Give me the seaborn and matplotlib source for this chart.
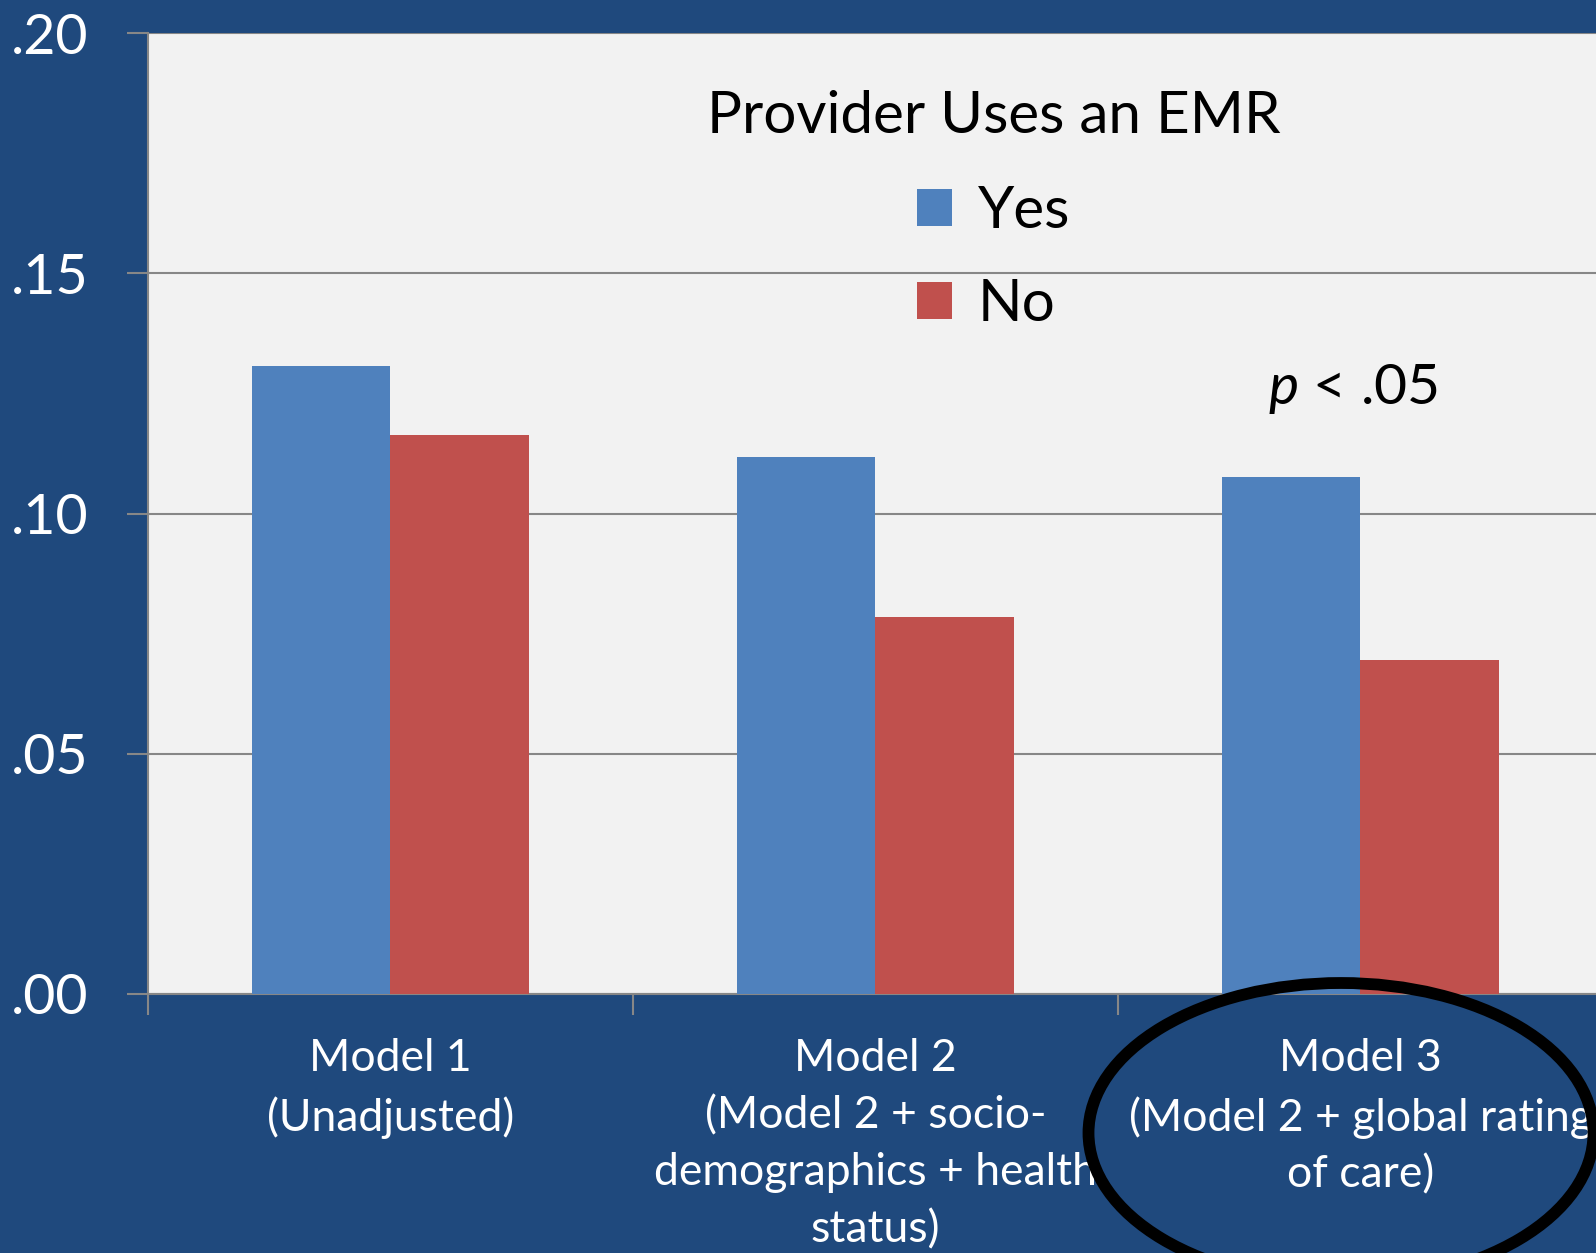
import numpy as np
import pandas as pd
import matplotlib
matplotlib.use("Agg")
import matplotlib.pyplot as plt
from matplotlib.patches import Ellipse
import seaborn as sns

# ── data ─────────────────────────────────────────────────────────────────────
models = [
    "Model 1\n(Unadjusted)",
    "Model 2\n(Model 2 + socio-\ndemographics + health\nstatus)",
    "Model 3\n(Model 2 + global rating\nof care)",
]
emr_groups = ["Yes", "No"]
yes_values = [0.1307, 0.1117, 0.1076]
no_values = [0.1163, 0.0784, 0.0695]
y_ticks = [0.00, 0.05, 0.10, 0.15, 0.20]
y_tick_labels = [".00", ".05", ".10", ".15", ".20"]

df = pd.DataFrame({
    "model": models * 2,
    "emr": ["Yes"] * 3 + ["No"] * 3,
    "value": yes_values + no_values,
})

BG = "#1F497D"
PANEL = "#F2F2F2"
GRID = "#878787"
palette = {"Yes": "#4F81BD", "No": "#C0504D"}

sns.set_theme(style="white")
plt.rcParams["font.family"] = ["Lato", "DejaVu Sans"]
plt.rcParams["mathtext.fontset"] = "custom"
plt.rcParams["mathtext.it"] = "Lato:italic"
plt.rcParams["mathtext.rm"] = "Lato"

fig = plt.figure(figsize=(15.96, 12.53), dpi=100, facecolor=BG)
ax = fig.add_axes([148 / 1596, 1 - 994 / 1253, (1603 - 148) / 1596, (994 - 33) / 1253])
ax.set_facecolor(PANEL)

sns.barplot(data=df, x="model", y="value", hue="emr", hue_order=emr_groups,
            palette=palette, saturation=1, width=0.57, gap=0, linewidth=0,
            ax=ax, zorder=3)

ax.set_xlim(-0.5, 2.5)
ax.set_ylim(0, 0.2)
ax.set_yticks(y_ticks)
ax.set_yticklabels(y_tick_labels)
ax.yaxis.grid(True, color=GRID, linewidth=1.5, zorder=0)
ax.set_axisbelow(True)
ax.set_xlabel("")
ax.set_ylabel("")

for side in ["top", "right"]:
    ax.spines[side].set_visible(False)
for side in ["left", "bottom"]:
    ax.spines[side].set_color(GRID)
    ax.spines[side].set_linewidth(1.5)

ax.tick_params(axis="y", which="major", length=15, width=1.5, color=GRID,
               labelsize=40, labelcolor="white", pad=28, left=True)
ax.tick_params(axis="x", which="major", length=0, labelsize=32, labelcolor="white", pad=32)
ax.set_xticks([-0.5, 0.5, 1.5, 2.5], minor=True)
ax.tick_params(axis="x", which="minor", length=15, width=1.5, color=GRID, bottom=True)
for lbl in ax.get_xticklabels():
    lbl.set_linespacing(1.48)

leg = ax.legend(title="Provider Uses an EMR", frameon=False, fontsize=42,
                title_fontsize=42, loc="upper center", bbox_to_anchor=(0.581, 0.995),
                handlelength=0.6, handleheight=0.6, handletextpad=0.45,
                labelspacing=0.68, labelcolor="black")
leg.get_title().set_color("black")
leg._legend_box.sep = 30

ax.text(1.985, 0.126, r"$p$ < .05", fontsize=41, color="black", ha="center", va="center")

ring = Ellipse((13.41, 12.53 - 11.33), 5.05, 3.00, transform=fig.dpi_scale_trans,
               fill=False, edgecolor="black", linewidth=8.5, clip_on=False)
fig.add_artist(ring)

fig.savefig("out.png", dpi=100, facecolor=BG)
